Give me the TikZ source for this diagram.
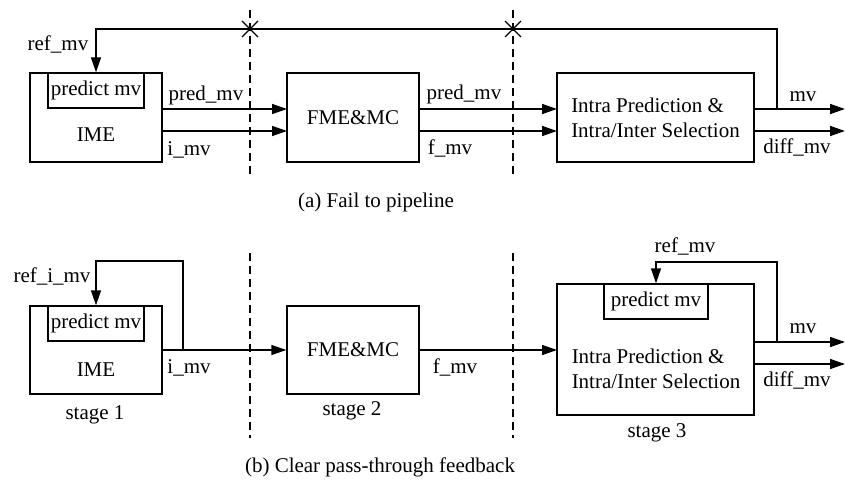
\documentclass[tikz,border=0pt]{standalone}
\usepackage{fontspec}
\setmainfont{Liberation Serif}
\usetikzlibrary{arrows.meta}
\begin{document}
\begin{tikzpicture}[x=1pt,y=-1pt,
  every node/.style={font=\fontsize{21}{25}\selectfont, inner sep=0pt},
  box/.style={draw, line width=1.4pt, rectangle},
  conn/.style={line width=1.4pt},
  arr/.style={conn, -{Triangle[length=15pt,width=10pt]}},
  sepline/.style={line width=1.2pt, dash pattern=on 8pt off 5pt},
  crossmark/.style={line width=1.3pt}
]
\useasboundingbox (0,0) rectangle (845,487);

% ---------- (a) ----------
\node[box, minimum width=132pt, minimum height=89pt] (ime1) at (96,117.5) {};
\node[box, minimum width=96pt, minimum height=35pt] (pm1) at (96,90.5) {predict mv};
\node (ime1t) at (96,135) {IME};
\node[box, minimum width=132pt, minimum height=89pt] (fme1) at (353,117.5) {FME\&MC};
\node[box, minimum width=197pt, minimum height=89pt, align=left] (intra1) at (655.5,117.5) {Intra Prediction \&\\Intra/Inter Selection};

\coordinate (ime1a) at (162,109);
\coordinate (ime1b) at (162,131);
\coordinate (fme1a) at (287,109);
\coordinate (fme1b) at (287,131);
\coordinate (fme1c) at (419,109);
\coordinate (fme1d) at (419,131);
\coordinate (in1a) at (557,109);
\coordinate (in1b) at (557,131);
\coordinate (in1c) at (754,109);
\coordinate (in1d) at (754,131);
\coordinate (out1a) at (845,109);
\coordinate (out1b) at (845,131);
\coordinate (tap1) at (777,109);

\draw[arr] (ime1a) -- (fme1a);
\draw[arr] (ime1b) -- (fme1b);
\draw[arr] (fme1c) -- (in1a);
\draw[arr] (fme1d) -- (in1b);
\draw[arr] (in1c) -- (out1a);
\draw[arr] (in1d) -- (out1b);
\draw[arr] (tap1) -- ++(0,-80) -| (pm1.north);

\draw[sepline] (250,10) -- (250,178);
\draw[sepline] (513,10) -- (513,178);
\draw[crossmark] (242,21) -- (258,37) (242,37) -- (258,21);
\draw[crossmark] (505,21) -- (521,37) (505,37) -- (521,21);

\node (l1) at (58,44) {ref\_mv};
\node (l2) at (206,95) {pred\_mv};
\node (l3) at (189,150) {i\_mv};
\node (l4) at (464,94) {pred\_mv};
\node (l5) at (450,148.5) {f\_mv};
\node (l6) at (803,97) {mv};
\node (l7) at (797,147.5) {diff\_mv};
\node (capa) at (376,202) {(a) Fail to pipeline};

% ---------- (b) ----------
\node[box, minimum width=132pt, minimum height=88pt] (ime2) at (96,350) {};
\node[box, minimum width=96pt, minimum height=35pt] (pm2) at (96,323.5) {predict mv};
\node (ime2t) at (96,370) {IME};
\node[box, minimum width=132pt, minimum height=88pt] (fme2) at (353,350) {FME\&MC};
\node[box, minimum width=197pt, minimum height=131pt] (intra2) at (655.5,349.5) {};
\node[box, minimum width=104pt, minimum height=35pt] (pm3) at (656,301.5) {predict mv};
\node[align=left] (intra2t) at (656,369) {Intra Prediction \&\\Intra/Inter Selection};

\coordinate (tap2) at (183,350);
\coordinate (in2a) at (557,350);
\coordinate (in2c) at (754,342);
\coordinate (in2d) at (754,364);
\coordinate (out2a) at (845,342);
\coordinate (out2b) at (845,364);
\coordinate (tap3) at (777,342);

\draw[arr] (ime2.east) -- (fme2.west);
\draw[arr] (fme2.east) -- (in2a);
\draw[arr] (in2c) -- (out2a);
\draw[arr] (in2d) -- (out2b);
\draw[arr] (tap2) -- ++(0,-89) -| (pm2.north);
\draw[arr] (tap3) -- ++(0,-80) -| (pm3.north);

\draw[sepline] (250,253) -- (250,438);
\draw[sepline] (513,253) -- (513,438);

\node (m1) at (52,276) {ref\_i\_mv};
\node (m2) at (189,368) {i\_mv};
\node (m3) at (95,415) {stage 1};
\node (m4) at (352,411) {stage 2};
\node (m5) at (455,367) {f\_mv};
\node (m6) at (685,246) {ref\_mv};
\node (m7) at (803,329) {mv};
\node (m8) at (797,380) {diff\_mv};
\node (m9) at (657,433) {stage 3};
\node (capb) at (380,467) {(b) Clear pass-through feedback};
\end{tikzpicture}
\end{document}
